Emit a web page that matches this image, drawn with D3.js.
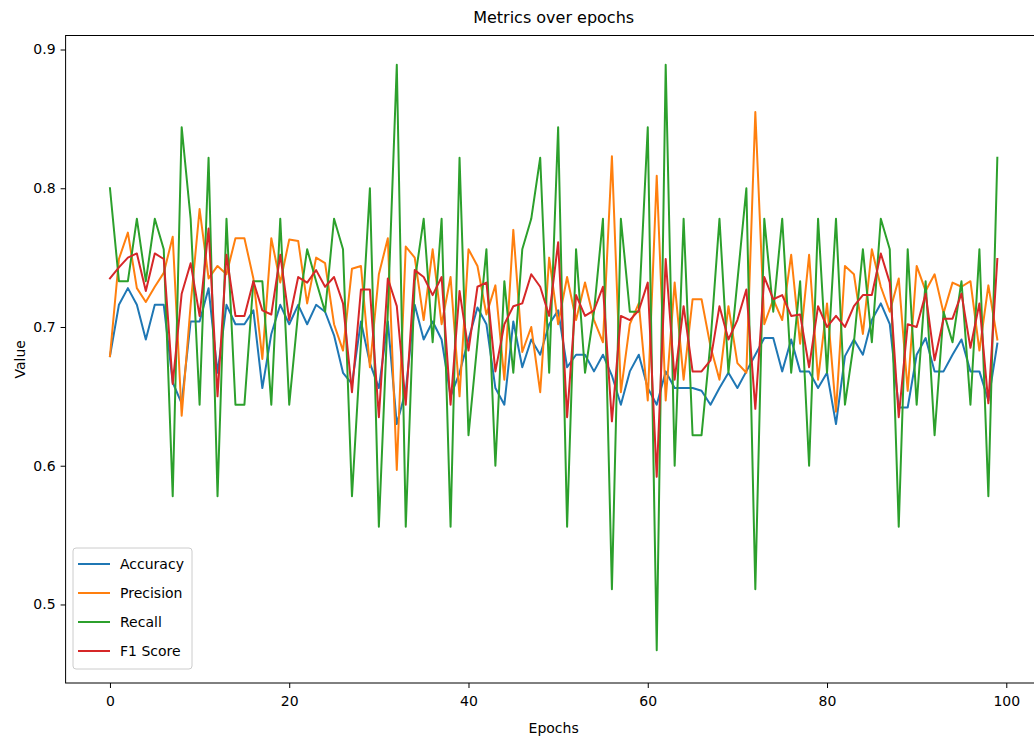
<!DOCTYPE html>
<html>
<head>
<meta charset="utf-8">
<script src="https://cdn.jsdelivr.net/npm/d3@7"></script>
<style>
  html, body { margin: 0; padding: 0; background: #fff; }
  svg { display: block; font-family: "DejaVu Sans", sans-serif; }
</style>
</head>
<body>
<svg id="chart" width="1034" height="743"></svg>
<script>
// Per-epoch validation metrics
const epochs = d3.range(0, 100);

const accuracy = [
  0.679, 0.716, 0.728, 0.716, 0.691, 0.716, 0.716, 0.660, 0.645, 0.704, 0.704, 0.728, 0.667,
  0.716, 0.702, 0.702, 0.712, 0.656, 0.695, 0.716, 0.702, 0.716, 0.702, 0.716, 0.711, 0.694, 0.667,
  0.659, 0.704, 0.674, 0.656, 0.704, 0.630, 0.654, 0.716, 0.691, 0.704, 0.691, 0.650, 0.667,
  0.691, 0.714, 0.702, 0.656, 0.644, 0.704, 0.671, 0.691, 0.680, 0.702, 0.712, 0.671, 0.680,
  0.680, 0.668, 0.680, 0.665, 0.644, 0.668, 0.680, 0.656, 0.644, 0.668, 0.656, 0.656, 0.656,
  0.654, 0.644, 0.656, 0.667, 0.656, 0.668, 0.680, 0.692, 0.692, 0.668, 0.691, 0.668, 0.668,
  0.656, 0.667, 0.630, 0.679, 0.691, 0.680, 0.705, 0.717, 0.702, 0.642, 0.642, 0.680, 0.692, 0.668,
  0.668, 0.680, 0.691, 0.668, 0.668, 0.647, 0.688
];

const precision = [
  0.679, 0.749, 0.768, 0.728, 0.718, 0.729, 0.739, 0.765, 0.636, 0.716, 0.785, 0.735, 0.744,
  0.738, 0.764, 0.764, 0.735, 0.677, 0.764, 0.732, 0.763, 0.762, 0.717, 0.750, 0.746, 0.702, 0.683,
  0.742, 0.744, 0.671, 0.738, 0.764, 0.597, 0.758, 0.750, 0.705, 0.756, 0.702, 0.736, 0.650,
  0.756, 0.744, 0.709, 0.730, 0.662, 0.770, 0.682, 0.700, 0.653, 0.750, 0.702, 0.736, 0.705,
  0.732, 0.705, 0.689, 0.823, 0.653, 0.702, 0.717, 0.647, 0.809, 0.647, 0.732, 0.662, 0.720,
  0.720, 0.686, 0.662, 0.715, 0.674, 0.667, 0.855, 0.702, 0.720, 0.705, 0.752, 0.688, 0.752,
  0.662, 0.717, 0.639, 0.744, 0.738, 0.695, 0.756, 0.729, 0.711, 0.735, 0.654, 0.744, 0.726, 0.738,
  0.710, 0.732, 0.729, 0.733, 0.683, 0.730, 0.691
];

const recall = [
  0.800, 0.733, 0.733, 0.778, 0.733, 0.778, 0.756, 0.578, 0.844, 0.778, 0.644, 0.822, 0.578,
  0.778, 0.644, 0.644, 0.733, 0.733, 0.644, 0.778, 0.644, 0.711, 0.756, 0.733, 0.711, 0.778, 0.756,
  0.578, 0.689, 0.800, 0.556, 0.711, 0.889, 0.556, 0.733, 0.778, 0.689, 0.778, 0.556, 0.822,
  0.622, 0.689, 0.756, 0.600, 0.733, 0.667, 0.756, 0.778, 0.822, 0.667, 0.844, 0.556, 0.756,
  0.667, 0.711, 0.778, 0.511, 0.778, 0.711, 0.711, 0.844, 0.467, 0.889, 0.600, 0.778, 0.622,
  0.622, 0.689, 0.778, 0.667, 0.733, 0.800, 0.511, 0.778, 0.711, 0.778, 0.667, 0.733, 0.600,
  0.778, 0.667, 0.778, 0.644, 0.689, 0.756, 0.689, 0.778, 0.756, 0.556, 0.756, 0.644, 0.733, 0.622,
  0.711, 0.689, 0.733, 0.644, 0.756, 0.578, 0.822
];

const f1Score = [
  0.735, 0.743, 0.750, 0.753, 0.726, 0.753, 0.749, 0.659, 0.724, 0.746, 0.708, 0.771, 0.650,
  0.752, 0.708, 0.708, 0.733, 0.712, 0.709, 0.752, 0.705, 0.736, 0.732, 0.741, 0.729, 0.736, 0.717,
  0.653, 0.727, 0.727, 0.635, 0.735, 0.715, 0.644, 0.741, 0.736, 0.723, 0.736, 0.644, 0.726,
  0.683, 0.729, 0.732, 0.668, 0.702, 0.715, 0.717, 0.738, 0.729, 0.708, 0.761, 0.635, 0.723,
  0.708, 0.712, 0.729, 0.632, 0.708, 0.705, 0.712, 0.732, 0.592, 0.749, 0.662, 0.715, 0.668,
  0.668, 0.676, 0.715, 0.691, 0.705, 0.727, 0.641, 0.736, 0.720, 0.723, 0.708, 0.709, 0.671,
  0.715, 0.700, 0.708, 0.700, 0.715, 0.723, 0.723, 0.753, 0.732, 0.635, 0.702, 0.700, 0.724, 0.676,
  0.706, 0.706, 0.724, 0.685, 0.717, 0.645, 0.749
];

const seriesNames = ["Accuracy", "Precision", "Recall", "F1 Score"];
const seriesValues = [accuracy, precision, recall, f1Score];
const seriesColors = ["#1f77b4", "#ff7f0e", "#2ca02c", "#d62728"];

const xTicks = [0, 20, 40, 60, 80, 100];
const yTicks = [0.5, 0.6, 0.7, 0.8, 0.9];

// Plot geometry
const plot = { left: 65.6, right: 1041.7, top: 35.5, bottom: 683 };

const svg = d3.select("#chart");
svg.append("rect").attr("width", 1034).attr("height", 743).attr("fill", "#fff");

const x = d3.scaleLinear().domain([-4.95, 103.95]).range([plot.left, plot.right]);
const y = d3.scaleLinear().domain([0.4434, 0.9101]).range([plot.bottom, plot.top]);

svg.append("clipPath").attr("id", "plot-clip")
  .append("rect")
  .attr("x", plot.left).attr("y", plot.top)
  .attr("width", plot.right - plot.left).attr("height", plot.bottom - plot.top);

// Lines
const line = d3.line().x((d, i) => x(epochs[i])).y(d => y(d));
const lines = svg.append("g").attr("clip-path", "url(#plot-clip)");
seriesValues.forEach((vals, k) => {
  lines.append("path")
    .datum(vals)
    .attr("d", line)
    .attr("fill", "none")
    .attr("stroke", seriesColors[k])
    .attr("stroke-width", 2)
    .attr("stroke-linejoin", "round")
    .attr("stroke-linecap", "square");
});

// Frame
svg.append("rect")
  .attr("x", plot.left).attr("y", plot.top)
  .attr("width", plot.right - plot.left).attr("height", plot.bottom - plot.top)
  .attr("fill", "none").attr("stroke", "#000").attr("stroke-width", 1);

// Axes
const xAxis = svg.append("g")
  .attr("transform", `translate(0,${plot.bottom})`)
  .call(d3.axisBottom(x).tickValues(xTicks).tickFormat(d3.format("d")).tickSize(5).tickPadding(8));
const yAxis = svg.append("g")
  .attr("transform", `translate(${plot.left},0)`)
  .call(d3.axisLeft(y).tickValues(yTicks).tickFormat(d3.format(".1f")).tickSize(5).tickPadding(5));

[xAxis, yAxis].forEach(g => {
  g.select(".domain").remove();
  g.selectAll("text").attr("font-size", 14).attr("fill", "#000")
    .attr("font-family", "DejaVu Sans, sans-serif");
  g.selectAll("line").attr("stroke", "#000");
});

// Titles
svg.append("text")
  .attr("x", (plot.left + plot.right) / 2).attr("y", 23)
  .attr("text-anchor", "middle").attr("font-size", 16).attr("fill", "#000")
  .text("Metrics over epochs");

svg.append("text")
  .attr("x", (plot.left + plot.right) / 2).attr("y", 733)
  .attr("text-anchor", "middle").attr("font-size", 14).attr("fill", "#000")
  .text("Epochs");

svg.append("text")
  .attr("transform", `translate(25,${(plot.top + plot.bottom) / 2}) rotate(-90)`)
  .attr("text-anchor", "middle").attr("font-size", 14).attr("fill", "#000")
  .text("Value");

// Legend
const legend = svg.append("g");
legend.append("rect")
  .attr("x", 73).attr("y", 548).attr("width", 119).attr("height", 121).attr("rx", 3)
  .attr("fill", "#fff").attr("fill-opacity", 0.8)
  .attr("stroke", "#cccccc").attr("stroke-width", 1);
seriesNames.forEach((name, k) => {
  const ry = 564 + k * 29;
  legend.append("line")
    .attr("x1", 78).attr("x2", 110).attr("y1", ry).attr("y2", ry)
    .attr("stroke", seriesColors[k]).attr("stroke-width", 2);
  legend.append("text")
    .attr("x", 120).attr("y", ry).attr("dy", "0.35em")
    .attr("font-size", 14).attr("fill", "#000")
    .text(name);
});
</script>
</body>
</html>
